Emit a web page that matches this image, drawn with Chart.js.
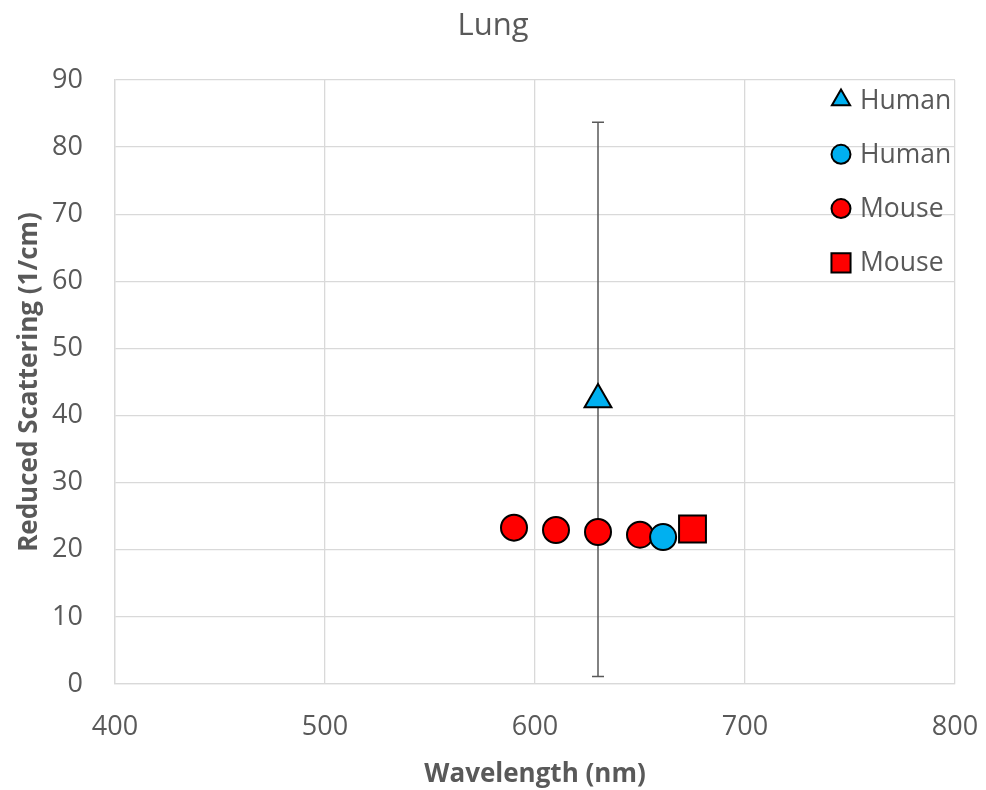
<!DOCTYPE html>
<html>
<head>
<meta charset="utf-8">
<script src="https://cdn.jsdelivr.net/npm/chart.js@4/dist/chart.umd.min.js"></script>
<style>
  html, body { margin: 0; padding: 0; background: #ffffff; }
  #wrap { width: 986px; height: 790px; }
</style>
</head>
<body>
<div id="wrap"><canvas id="c" width="986" height="790"></canvas></div>
<script>
// ---- data ----
const chartTitle = 'Lung';
const xAxisTitle = 'Wavelength (nm)';
const yAxisTitle = 'Reduced Scattering (1/cm)';
const xTicks = [400, 500, 600, 700, 800];
const yTicks = [0, 10, 20, 30, 40, 50, 60, 70, 80, 90];

const seriesLabels = ['Human', 'Human', 'Mouse', 'Mouse'];

const humanTriX = [630];
const humanTriY = [42.4];
const humanTriErr = [41.3];

const humanCircX = [661];
const humanCircY = [21.9];

const mouseCircX = [590, 610, 630, 650];
const mouseCircY = [23.3, 22.95, 22.65, 22.25];

const mouseSqX = [675];
const mouseSqY = [23.1];

const toPts = (xs, ys) => xs.map((x, i) => ({ x: x, y: ys[i] }));

const TEXT = '#595959';
const GRID = '#D9D9D9';
const FONT = '"Open Sans", "Noto Sans", "Liberation Sans", sans-serif';

// error bars drawn beneath the markers
const errorBarPlugin = {
  id: 'errorBars',
  beforeDatasetsDraw(chart) {
    const ctx = chart.ctx;
    const xs = chart.scales.x, ys = chart.scales.y;
    ctx.save();
    ctx.strokeStyle = '#595959';
    ctx.lineWidth = 1.5;
    humanTriX.forEach((xv, i) => {
      const px = xs.getPixelForValue(xv);
      const top = ys.getPixelForValue(humanTriY[i] + humanTriErr[i]);
      const bot = ys.getPixelForValue(humanTriY[i] - humanTriErr[i]);
      const cap = 6;
      ctx.beginPath();
      ctx.moveTo(px, top); ctx.lineTo(px, bot);
      ctx.moveTo(px - cap, top); ctx.lineTo(px + cap, top);
      ctx.moveTo(px - cap, bot); ctx.lineTo(px + cap, bot);
      ctx.stroke();
    });
    ctx.restore();
  }
};

// legend drawn inside the plot area, top-right
const legendRadii = [10.5, 9.5, 9.5, 13.5];
const insideLegend = {
  id: 'insideLegend',
  afterDraw(chart) {
    const ctx = chart.ctx;
    const area = chart.chartArea;
    ctx.save();
    chart.data.datasets.forEach((ds, i) => {
      const cx = area.right - 114;
      const cy = area.top + 20 + i * 54.3;
      ctx.fillStyle = ds.backgroundColor;
      ctx.strokeStyle = ds.borderColor;
      ctx.lineWidth = 2;
      Chart.helpers.drawPoint(ctx, {
        pointStyle: ds.pointStyle, rotation: 0,
        radius: legendRadii[i], borderWidth: 2
      }, cx, cy);
      ctx.fillStyle = TEXT;
      ctx.font = '26.5px ' + FONT;
      ctx.textAlign = 'left';
      ctx.textBaseline = 'middle';
      ctx.fillText(ds.label, area.right - 95, cy + 1);
    });
    ctx.restore();
  }
};

new Chart(document.getElementById('c'), {
  type: 'scatter',
  data: {
    datasets: [
      {
        label: seriesLabels[0], data: toPts(humanTriX, humanTriY),
        pointStyle: 'triangle', pointRadius: 15.5, pointHoverRadius: 15.5,
        backgroundColor: '#00B0F0', borderColor: '#000000', borderWidth: 2
      },
      {
        label: seriesLabels[1], data: toPts(humanCircX, humanCircY),
        pointStyle: 'circle', pointRadius: 13, pointHoverRadius: 13,
        backgroundColor: '#00B0F0', borderColor: '#000000', borderWidth: 2
      },
      {
        label: seriesLabels[2], data: toPts(mouseCircX, mouseCircY),
        pointStyle: 'circle', pointRadius: 13, pointHoverRadius: 13,
        backgroundColor: '#FF0000', borderColor: '#000000', borderWidth: 2
      },
      {
        label: seriesLabels[3], data: toPts(mouseSqX, mouseSqY),
        pointStyle: 'rect', pointRadius: 19, pointHoverRadius: 19,
        backgroundColor: '#FF0000', borderColor: '#000000', borderWidth: 2
      }
    ]
  },
  options: {
    responsive: false,
    devicePixelRatio: 1,
    animation: false,
    layout: { padding: { left: 0, right: 0, top: 0, bottom: 0 } },
    plugins: {
      legend: { display: false },
      tooltip: { enabled: false },
      title: {
        display: true, text: chartTitle, color: TEXT,
        font: { family: FONT, size: 31, weight: 'normal' },
        padding: { top: 8, bottom: 34.8 }
      }
    },
    scales: {
      x: {
        type: 'linear', min: xTicks[0], max: xTicks[xTicks.length - 1],
        afterBuildTicks(s) { s.ticks = xTicks.map(v => ({ value: v })); },
        afterFit(s) { s.height = 106; s.paddingRight = 31; },
        grid: { color: GRID, lineWidth: 1.3, drawTicks: false },
        border: { color: GRID, width: 1.3 },
        ticks: { color: TEXT, padding: 27, font: { family: FONT, size: 27 } },
        title: {
          display: true, text: xAxisTitle, color: TEXT,
          font: { family: FONT, size: 26, weight: 'bold' },
          padding: { top: 0, bottom: 0 }
        }
      },
      y: {
        type: 'linear', min: yTicks[0], max: yTicks[yTicks.length - 1],
        afterBuildTicks(s) { s.ticks = yTicks.map(v => ({ value: v })); },
        afterFit(s) { s.width = 115; },
        grid: { color: GRID, lineWidth: 1.3, drawTicks: false },
        border: { color: GRID, width: 1.3 },
        ticks: { color: TEXT, padding: 32, font: { family: FONT, size: 27 } },
        title: {
          display: true, text: yAxisTitle, color: TEXT,
          font: { family: FONT, size: 26, weight: 'bold' },
          padding: { top: 14, bottom: 0 }
        }
      }
    }
  },
  plugins: [errorBarPlugin, insideLegend]
});
</script>
</body>
</html>
